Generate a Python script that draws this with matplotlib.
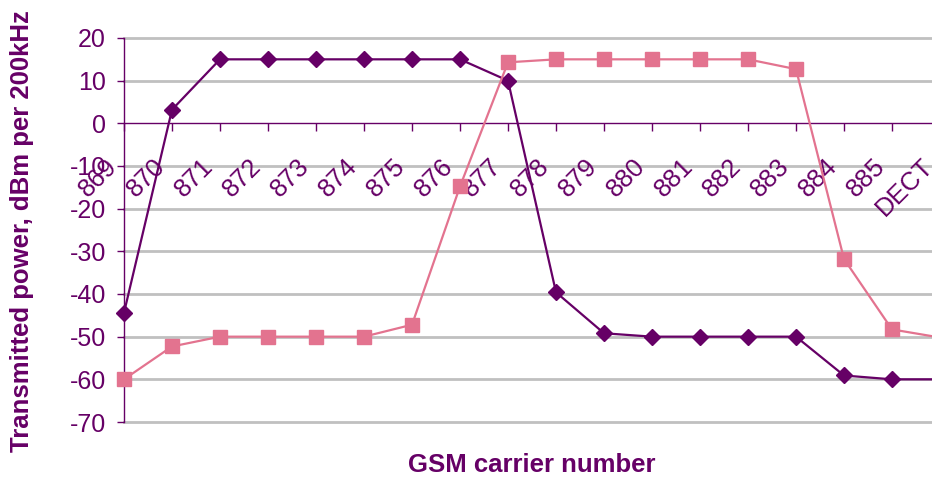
import matplotlib
matplotlib.use("Agg")
import matplotlib.pyplot as plt
from matplotlib.transforms import ScaledTranslation

plt.rcParams['font.family'] = ['Liberation Sans', 'DejaVu Sans']
plt.rcParams['axes.unicode_minus'] = False

carriers = ["869", "870", "871", "872", "873", "874", "875", "876", "877",
            "878", "879", "880", "881", "882", "883", "884", "885", "DECT"]
lower_band = [-44.4, 3.2, 15, 15, 15, 15, 15, 15, 10,
              -39.6, -49.2, -50, -50, -50, -50, -59.1, -60, -60]
upper_band = [-60, -52.3, -50, -50, -50, -50, -47.2, -14.8, 14.3,
              15, 15, 15, 15, 15, 12.7, -31.8, -48.3, -50.2]
yticks = [20, 10, 0, -10, -20, -30, -40, -50, -60, -70]

PURPLE = "#660066"
PINK = "#E3738F"

fig = plt.figure(figsize=(9.32, 4.79), dpi=100)
ax = fig.add_axes([124 / 932, 57 / 479, 816 / 932, 384 / 479])

x = range(len(carriers))
ax.plot(x, lower_band, color=PURPLE, lw=1.6, marker="D", ms=8,
        mec=PURPLE, mew=1, zorder=3, clip_on=False)
ax.plot(x, upper_band, color=PINK, lw=1.6, marker="s", ms=9.5,
        mec=PINK, mew=1, zorder=3, clip_on=False)

ax.set_xlim(0, len(carriers) - 1)
ax.set_ylim(-70, 20)

# horizontal grid behind the series
for v in yticks:
    if v != 0:
        ax.axhline(v, color="#C0C0C0", lw=2, zorder=0.5, clip_on=False)

ax.spines["top"].set_visible(False)
ax.spines["right"].set_visible(False)
ax.spines["bottom"].set_position(("data", 0))
ax.spines["bottom"].set_color(PURPLE)
ax.spines["left"].set_color(PURPLE)
ax.spines["bottom"].set_linewidth(1)
ax.spines["left"].set_linewidth(1)

ax.set_yticks(yticks)
ax.tick_params(axis="y", direction="out", length=5, width=1, color=PURPLE,
               labelcolor=PURPLE, labelsize=18, pad=8)
ax.set_xticks(list(x))
ax.set_xticklabels(carriers)
ax.tick_params(axis="x", direction="out", length=6, width=1, color=PURPLE,
               labelcolor=PURPLE, labelsize=18.5, pad=16)
shift = ScaledTranslation(-19 / 100, 0, fig.dpi_scale_trans)
for lab in ax.get_xticklabels():
    lab.set_rotation(45)
    lab.set_ha("right")
    lab.set_va("top")
    lab.set_rotation_mode("anchor")
    lab.set_transform(lab.get_transform() + shift)

fig.text(532 / 932, 1 - 465 / 479, "GSM carrier number", color=PURPLE,
         fontsize=18.5, fontweight="bold", ha="center", va="center")
fig.text(22 / 932, 1 - 231 / 479, "Transmitted power, dBm per 200kHz",
         color=PURPLE, fontsize=18.5, fontweight="bold", rotation=90,
         ha="center", va="center")

fig.savefig("out.png", dpi=100)
